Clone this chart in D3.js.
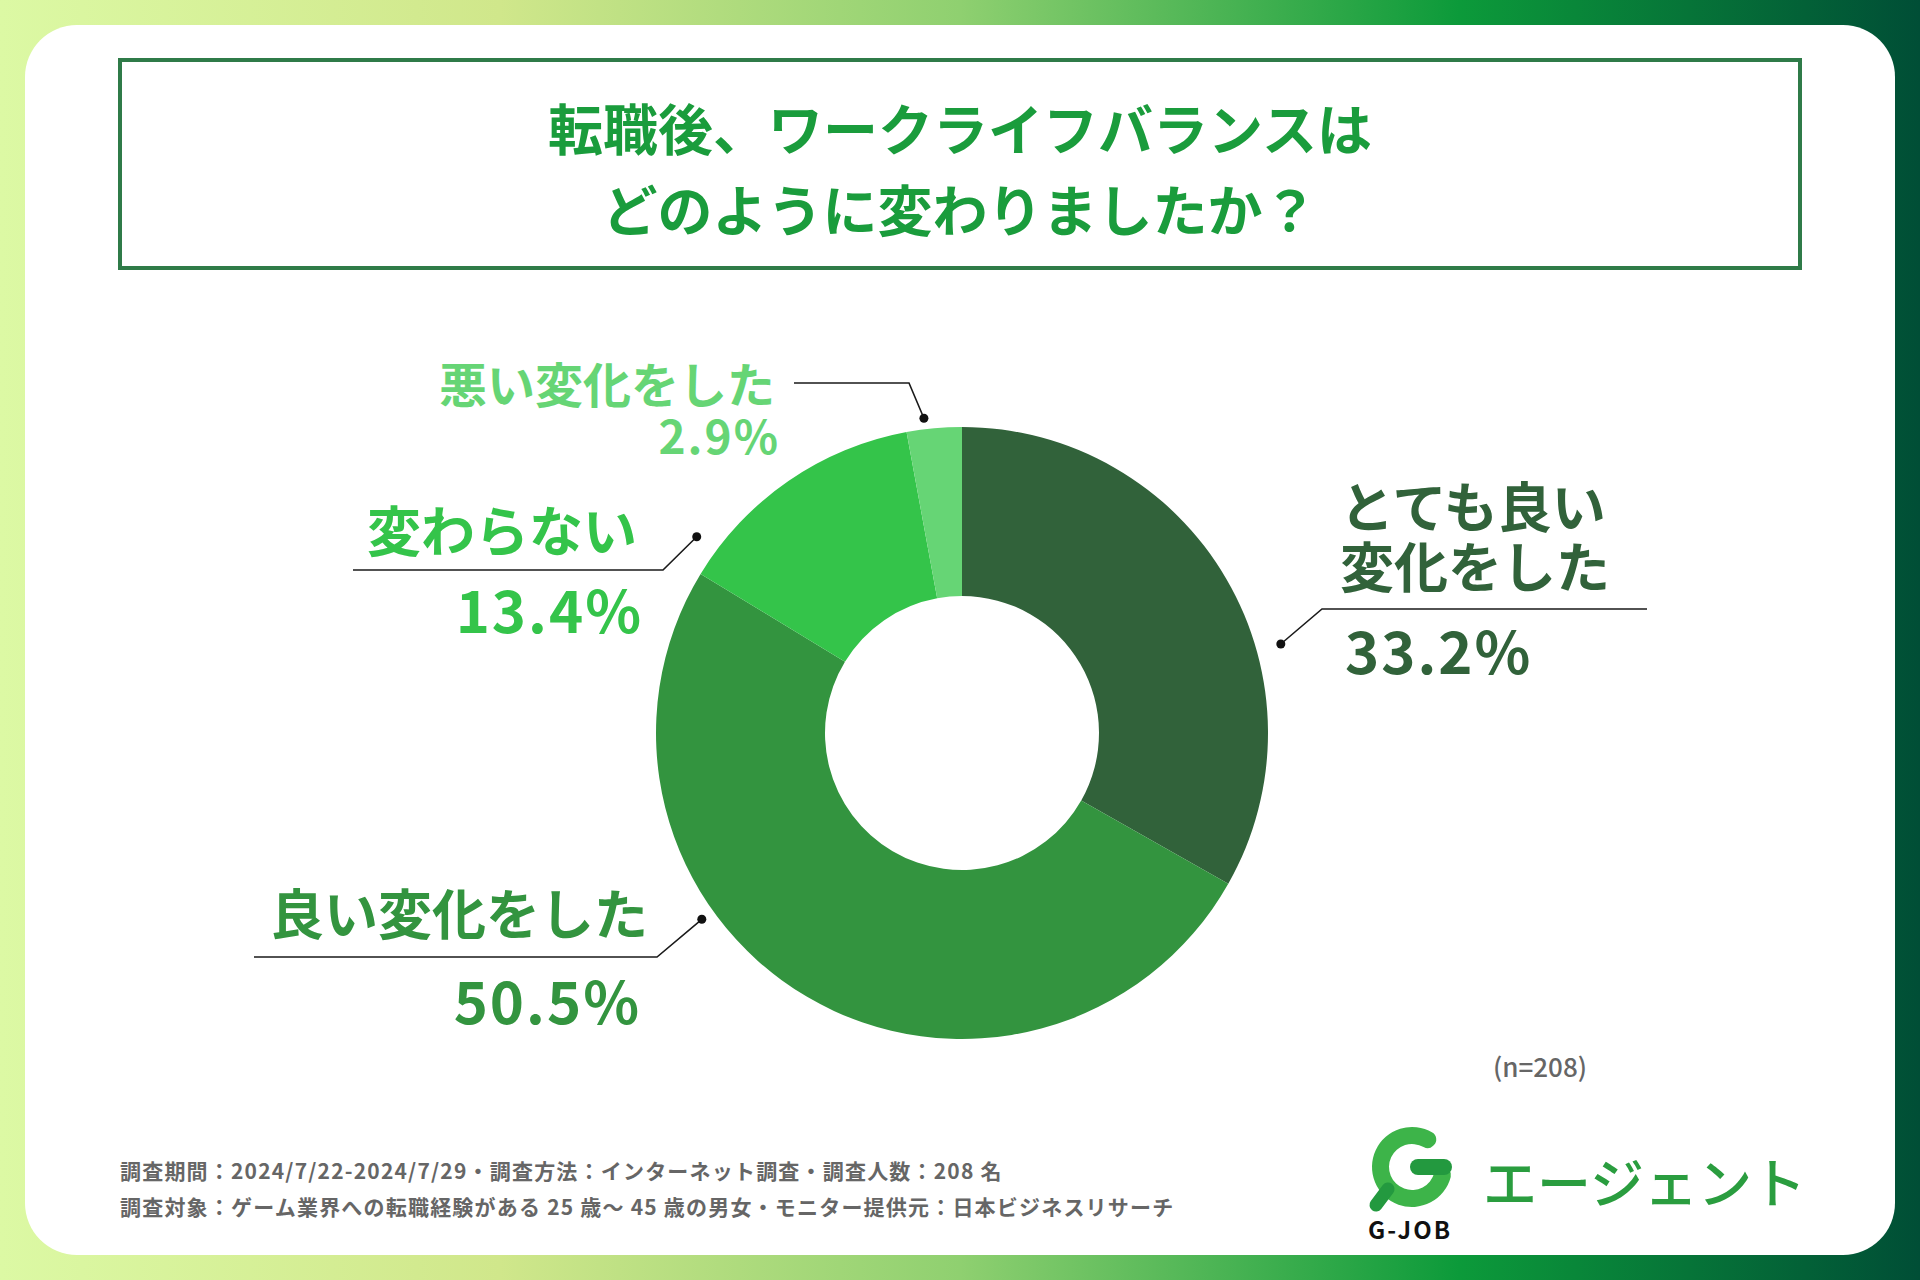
<!DOCTYPE html>
<html>
<head>
<meta charset="utf-8">
<script src="https://cdn.jsdelivr.net/npm/d3@7"></script>
<style>
  body { margin: 0; padding: 0; background: #fff; }
  svg { display: block; font-family: "Noto Sans CJK JP", "Noto Sans", sans-serif; }
</style>
</head>
<body>
<div id="chart"></div>
<script>
// data
var categories = ["とても良い変化をした", "良い変化をした", "変わらない", "悪い変化をした"];
var values = [33.2, 50.5, 13.4, 2.9];
var sampleSize = 208;

var titleLines = ["転職後、ワークライフバランスは", "どのように変わりましたか？"];
var footerLines = [
  "調査期間：2024/7/22-2024/7/29・調査方法：インターネット調査・調査人数：208 名",
  "調査対象：ゲーム業界への転職経験がある 25 歳～ 45 歳の男女・モニター提供元：日本ビジネスリサーチ"
];

// styles / layout
var width = 1920, height = 1280;
var colors = ["#31623a", "#33943f", "#34c44a", "#66d575"];
var cx = 962, cy = 733;
var outerR = 306, innerR = 137;

// label layout: dot angle (deg, clockwise from top), dot radius, elbow, line end, text spot
var labelLayout = [
  { angle: 74.4, r: 331, elbow: [1322, 609], lineEnd: 1647, anchor: "start", tx: 1340,
    lines: [528, 588], size: 54, pctX: 1345, pctY: 674, pctSize: 58, split: ["とても良い", "変化をした"], inline: false },
  { angle: 234.4, r: 320, elbow: [657, 957], lineEnd: 254, anchor: "end", tx: 648,
    lines: [935], size: 54, pctX: 641, pctY: 1024, pctSize: 58, split: null, inline: false },
  { angle: 306.5, r: 330, elbow: [663, 570], lineEnd: 353, anchor: "end", tx: 637,
    lines: [552], size: 54, pctX: 643, pctY: 633, pctSize: 58, split: null, inline: false },
  { angle: 353.1, r: 317, elbow: [909, 383], lineEnd: 794, anchor: "end", tx: 775,
    lines: [403], size: 48, pctX: 780, pctY: 454, pctSize: 46, split: null, inline: true }
];

var svg = d3.select("#chart")
    .append("svg")
    .attr("width", width)
    .attr("height", height);

var defs = svg.append("defs");
var grad = defs.append("linearGradient")
    .attr("id", "bgGrad")
    .attr("x1", "0%").attr("y1", "0%")
    .attr("x2", "100%").attr("y2", "0%");
grad.append("stop").attr("offset", "0%").attr("stop-color", "#dcf9a4");
grad.append("stop").attr("offset", "26%").attr("stop-color", "#d0e78b");
grad.append("stop").attr("offset", "50%").attr("stop-color", "#8fd070");
grad.append("stop").attr("offset", "76%").attr("stop-color", "#0c9a3a");
grad.append("stop").attr("offset", "100%").attr("stop-color", "#004e36");

svg.append("rect")
    .attr("width", width)
    .attr("height", height)
    .attr("fill", "url(#bgGrad)");

// white card
svg.append("rect")
    .attr("x", 25)
    .attr("y", 25)
    .attr("width", 1870)
    .attr("height", 1230)
    .attr("rx", 52)
    .attr("fill", "#ffffff");

// title box
svg.append("rect")
    .attr("x", 120)
    .attr("y", 60)
    .attr("width", 1680)
    .attr("height", 208)
    .attr("fill", "none")
    .attr("stroke", "#2f7b48")
    .attr("stroke-width", 4);

svg.selectAll(".titleText")
    .data(titleLines)
    .enter()
    .append("text")
    .attr("class", "titleText")
    .attr("x", 960)
    .attr("y", function (d, i) { return 150 + i * 81; })
    .attr("text-anchor", "middle")
    .style("font-size", "55px")
    .style("font-weight", "700")
    .style("fill", "#1a9c3c")
    .text(function (d) { return d; });

// donut
var pie = d3.pie().sort(null).value(function (d) { return d; });
var arc = d3.arc().innerRadius(innerR).outerRadius(outerR);
var arcs = pie(values);

var donut = svg.append("g")
    .attr("transform", "translate(" + cx + "," + cy + ")");

donut.selectAll("path")
    .data(arcs)
    .enter()
    .append("path")
    .attr("d", arc)
    .attr("fill", function (d, i) { return colors[i]; });

// labels
var labelG = svg.append("g");
var pctFmt = function (v) { return d3.format(".1f")(v) + "%"; };

labelLayout.forEach(function (L, i) {
    var a = L.angle * Math.PI / 180;
    var dx = cx + Math.sin(a) * L.r;
    var dy = cy - Math.cos(a) * L.r;

    labelG.append("polyline")
        .attr("points", [[dx, dy], L.elbow, [L.lineEnd, L.elbow[1]]].map(function (p) { return p.join(","); }).join(" "))
        .attr("fill", "none")
        .attr("stroke", "#1a1a1a")
        .attr("stroke-width", 1.6);

    labelG.append("circle")
        .attr("cx", dx)
        .attr("cy", dy)
        .attr("r", 4.5)
        .attr("fill", "#111");

    var parts = L.split ? L.split : [categories[i]];
    var txt = labelG.append("text")
        .attr("text-anchor", L.anchor)
        .style("font-weight", "700")
        .style("fill", colors[i]);

    parts.forEach(function (t, j) {
        txt.append("tspan")
            .attr("x", L.tx)
            .attr("y", L.lines[j])
            .style("font-size", L.size + "px")
            .text(t);
    });

    var pctTarget = L.inline ? txt : labelG.append("text")
        .attr("text-anchor", L.anchor)
        .style("font-weight", "700")
        .style("fill", colors[i]);

    pctTarget.append("tspan")
        .attr("x", L.pctX)
        .attr("y", L.pctY)
        .style("font-size", L.pctSize + "px")
        .style("letter-spacing", "2px")
        .text(pctFmt(values[i]));
});

// sample size
svg.append("text")
    .attr("x", 1540)
    .attr("y", 1077)
    .attr("text-anchor", "middle")
    .style("font-size", "26px")
    .style("font-weight", "500")
    .style("fill", "#666")
    .text("(n=" + sampleSize + ")");

// footer
svg.selectAll(".footText")
    .data(footerLines)
    .enter()
    .append("text")
    .attr("class", "footText")
    .attr("x", 120)
    .attr("y", function (d, i) { return 1179 + i * 36; })
    .style("font-size", "21px")
    .style("font-weight", "700")
    .style("letter-spacing", "1.2px")
    .style("fill", "#666")
    .text(function (d) { return d; });

// logo
var logo = svg.append("g")
    .attr("transform", "translate(1412,1167)");

logo.append("path")
    .attr("d", d3.arc()
        .innerRadius(23)
        .outerRadius(40)
        .startAngle(Math.PI / 2)
        .endAngle(2 * Math.PI + Math.PI / 4)
        .cornerRadius(8)())
    .attr("fill", "#3db449");

logo.append("rect")
    .attr("x", -2)
    .attr("y", -8)
    .attr("width", 42)
    .attr("height", 16)
    .attr("rx", 8)
    .attr("fill", "#23993f");

logo.append("line")
    .attr("x1", -24)
    .attr("y1", 22)
    .attr("x2", -36)
    .attr("y2", 38)
    .attr("stroke", "#23993f")
    .attr("stroke-width", 13)
    .attr("stroke-linecap", "round");

svg.append("text")
    .attr("x", 1410)
    .attr("y", 1239)
    .attr("text-anchor", "middle")
    .style("font-size", "24px")
    .style("font-weight", "700")
    .style("letter-spacing", "2px")
    .style("fill", "#111")
    .text("G-JOB");

svg.append("text")
    .attr("x", 1483)
    .attr("y", 1204)
    .style("font-size", "54px")
    .style("font-weight", "500")
    .style("fill", "#2a9d3f")
    .text("エージェント");
</script>
</body>
</html>
